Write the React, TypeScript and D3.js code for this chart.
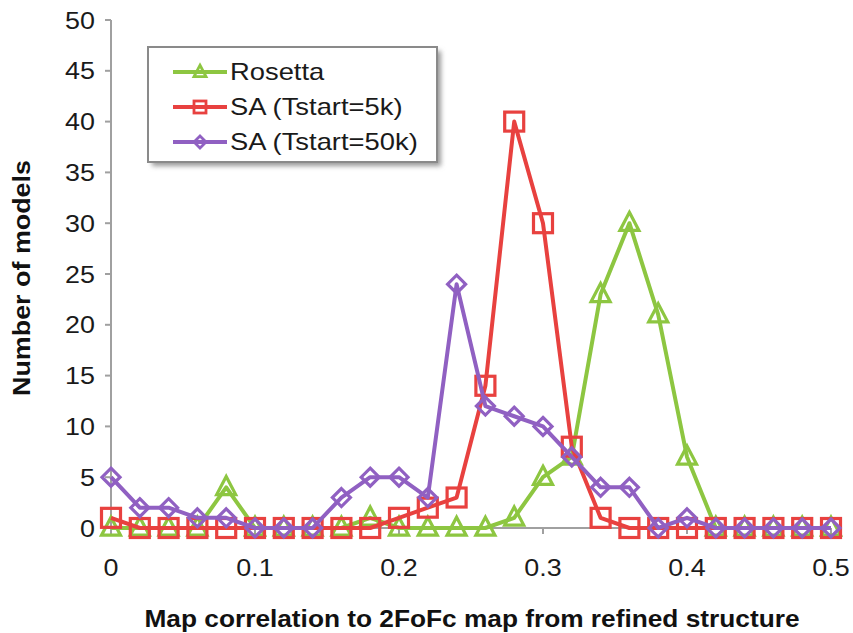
import React from "react";
import * as d3 from "d3";

const xValues = [0, 0.02, 0.04, 0.06, 0.08, 0.1, 0.12, 0.14, 0.16, 0.18, 0.2, 0.22, 0.24, 0.26, 0.28, 0.3, 0.32, 0.34, 0.36, 0.38, 0.4, 0.42, 0.44, 0.46, 0.48, 0.5];
const rosetta = [0, 0, 0, 0, 4, 0, 0, 0, 0, 1, 0, 0, 0, 0, 1, 5, 7, 23, 30, 21, 7, 0, 0, 0, 0, 0];
const sa5k = [1, 0, 0, 0, 0, 0, 0, 0, 0, 0, 1, 2, 3, 14, 40, 30, 8, 1, 0, 0, 0, 0, 0, 0, 0, 0];
const sa50k = [5, 2, 2, 1, 1, 0, 0, 0, 3, 5, 5, 3, 24, 12, 11, 10, 7, 4, 4, 0, 1, 0, 0, 0, 0, 0];
const xTicks = [0, 0.1, 0.2, 0.3, 0.4, 0.5];
const yTicks = [0, 5, 10, 15, 20, 25, 30, 35, 40, 45, 50];
const seriesNames = ["Rosetta", "SA (Tstart=5k)", "SA (Tstart=50k)"];

const W = 853, H = 633;
const x = d3.scaleLinear().domain([0, 0.5]).range([111, 831]);
const y = d3.scaleLinear().domain([0, 50]).range([528, 20]);

const colors = ["#8dc641", "#e8413f", "#9060c2"];
const kinds = ["triangle", "square", "diamond"];

function marker(kind: string, cx: number, cy: number, s: number, color: string, sw: number, key?: any) {
  if (kind === "square") {
    return <rect key={key} x={cx - s / 2} y={cy - s / 2} width={s} height={s} fill="none" stroke={color} strokeWidth={sw} />;
  }
  if (kind === "triangle") {
    const h = s * 0.95;
    const p = `${cx},${cy - h * 0.6} ${cx + s / 2},${cy + h * 0.4} ${cx - s / 2},${cy + h * 0.4}`;
    return <polygon key={key} points={p} fill="none" stroke={color} strokeWidth={sw} strokeLinejoin="miter" />;
  }
  const r = s / 2;
  const p = `${cx},${cy - r} ${cx + r},${cy} ${cx},${cy + r} ${cx - r},${cy}`;
  return <polygon key={key} points={p} fill="none" stroke={color} strokeWidth={sw} />;
}

function SText(props: { x: number; y: number; sx: number; anchor?: string; size: number; children: any; weight?: string }) {
  return (
    <text
      transform={`translate(${props.x},${props.y}) scale(${props.sx},1)`}
      textAnchor={props.anchor || "start"}
      fontSize={props.size}
      fontWeight={props.weight || "normal"}
      fill="#1a1a1a"
    >
      {props.children}
    </text>
  );
}

export default function App() {
  const data = [rosetta, sa5k, sa50k];
  const line = d3.line<number>().x((_, i) => x(xValues[i])).y((d) => y(d));
  const font = "'Liberation Sans', Arial, sans-serif";
  const legendRows = [72, 107, 142];
  return (
    <svg width={W} height={H} style={{ position: "absolute", left: 0, top: 0, background: "#fff" }} fontFamily={font}>
      <defs>
        <filter id="sh" x="-10%" y="-10%" width="130%" height="140%">
          <feGaussianBlur stdDeviation="2.5" />
        </filter>
      </defs>
      {/* axes */}
      <line x1={x(0)} x2={x(0)} y1={y(0)} y2={y(50)} stroke="#a0a0a0" strokeWidth={2} />
      <line x1={x(0)} x2={x(0.5)} y1={y(0)} y2={y(0)} stroke="#a0a0a0" strokeWidth={2} />
      {yTicks.map((t) => (
        <g key={"y" + t}>
          <line x1={x(0) - 6} x2={x(0)} y1={y(t)} y2={y(t)} stroke="#a0a0a0" strokeWidth={2} />
          <SText x={95} y={y(t) + 8.5} sx={1.12} anchor="end" size={24}>{t}</SText>
        </g>
      ))}
      {xTicks.map((t) => (
        <g key={"x" + t}>
          <line x1={x(t)} x2={x(t)} y1={y(0)} y2={y(0) + 6} stroke="#a0a0a0" strokeWidth={2} />
          <SText x={x(t)} y={576} sx={1.12} anchor="middle" size={24}>{t === 0 ? "0" : String(t)}</SText>
        </g>
      ))}
      {/* series */}
      {data.map((vals, si) => (
        <g key={"s" + si}>
          <path d={line(vals) || ""} fill="none" stroke={colors[si]} strokeWidth={4} strokeLinejoin="round" />
          {vals.map((v, i) => marker(kinds[si], x(xValues[i]), y(v), kinds[si] === "diamond" ? 18 : 19, colors[si], 3.2, i))}
        </g>
      ))}
      {/* legend */}
      <rect x={152} y={51} width={289} height={115} fill="#999" filter="url(#sh)" />
      <rect x={148} y={47} width={289} height={115} fill="#fff" stroke="#8a8a8a" strokeWidth={2} />
      {seriesNames.map((n, i) => (
        <g key={"l" + i}>
          <line x1={173} x2={227} y1={legendRows[i]} y2={legendRows[i]} stroke={colors[i]} strokeWidth={4} />
          {marker(kinds[i], 200, legendRows[i], 12, colors[i], 2.8)}
          <SText x={230} y={legendRows[i] + 8} sx={1.19} size={23}>{n}</SText>
        </g>
      ))}
      {/* titles */}
      <text x={472} y={627} textAnchor="middle" fontSize={23} fontWeight="bold" fill="#111" textLength={655} lengthAdjust="spacingAndGlyphs">Map correlation to 2FoFc map from refined structure</text>
      <text transform={`translate(30,278) rotate(-90)`} textAnchor="middle" fontSize={23} fontWeight="bold" fill="#111" textLength={236} lengthAdjust="spacingAndGlyphs">Number of models</text>
    </svg>
  );
}
